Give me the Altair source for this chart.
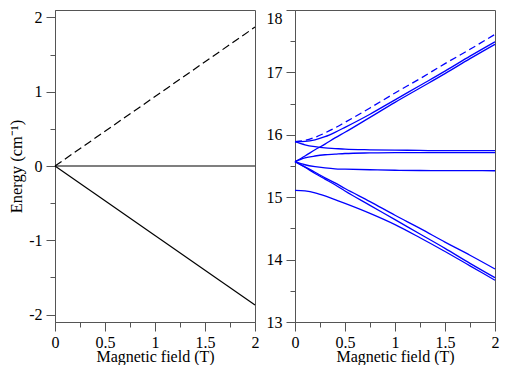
import altair as alt
import pandas as pd

# ---------------- data ----------------
left_field = [0.0, 2.0]
left_up = [0.0, 1.87]        # dashed
left_zero = [0.0, 0.0]
left_down = [0.0, -1.87]

field = [0.0, 0.1, 0.2, 0.3, 0.4, 0.5, 0.75, 1.0, 1.25, 1.5, 1.75, 2.0]
r_dashed = [15.89, 15.91, 15.96, 16.03, 16.11, 16.20, 16.43, 16.67, 16.90, 17.14, 17.37, 17.61]
r_up1 = [15.89, 15.895, 15.92, 15.97, 16.04, 16.12, 16.33, 16.56, 16.79, 17.02, 17.26, 17.49]
r_up2 = [15.57, 15.66, 15.76, 15.85, 15.95, 16.04, 16.28, 16.52, 16.75, 16.98, 17.22, 17.45]
r_mid1 = [15.89, 15.84, 15.81, 15.79, 15.78, 15.77, 15.76, 15.755, 15.75, 15.745, 15.745, 15.745]
r_mid2 = [15.57, 15.63, 15.66, 15.68, 15.69, 15.70, 15.71, 15.715, 15.715, 15.715, 15.715, 15.715]
r_mid3 = [15.57, 15.52, 15.49, 15.47, 15.455, 15.45, 15.44, 15.432, 15.428, 15.426, 15.425, 15.424]
r_down1 = [15.57, 15.485, 15.40, 15.31, 15.23, 15.14, 14.93, 14.71, 14.50, 14.28, 14.07, 13.85]
r_down2 = [15.57, 15.48, 15.38, 15.29, 15.20, 15.10, 14.87, 14.64, 14.41, 14.18, 13.94, 13.71]
r_down3 = [15.11, 15.10, 15.07, 15.02, 14.96, 14.90, 14.74, 14.56, 14.35, 14.13, 13.90, 13.67]

x_major = [0, 0.5, 1, 1.5, 2]
x_minor = [0.25, 0.75, 1.25, 1.75]
yl_major = [-2, -1, 0, 1, 2]
yl_minor = [-1.5, -0.5, 0.5, 1.5]
yr_major = [13, 14, 15, 16, 17, 18]
yr_minor = [13.5, 14.5, 15.5, 16.5, 17.5]

left_solid = pd.DataFrame({
    "field": left_field * 2,
    "energy": left_zero + left_down,
    "line": ["zero"] * 2 + ["down"] * 2,
})
left_dash = pd.DataFrame({"field": left_field, "energy": left_up})

solid_series = {"up1": r_up1, "up2": r_up2, "mid1": r_mid1, "mid2": r_mid2,
                "mid3": r_mid3, "down1": r_down1, "down2": r_down2, "down3": r_down3}
rows = []
for name, vals in solid_series.items():
    for f, e in zip(field, vals):
        rows.append({"field": f, "energy": e, "line": name})
right_solid = pd.DataFrame(rows)
right_dash = pd.DataFrame({"field": field, "energy": r_dashed})

FONT = "Liberation Serif"
AX = "#555555"
W, H = 200, 312
LFS = 16
TFS = 16

xscale = alt.Scale(domain=[0, 2], nice=False, zero=False)
ylscale = alt.Scale(domain=[-2.1, 2.1], nice=False, zero=False)
yrscale = alt.Scale(domain=[13, 18], nice=False, zero=False)

def major_x():
    return alt.Axis(values=x_major, labelExpr="toString(datum.value)", title="Magnetic field (T)",
                    orient="bottom", labelFont=FONT, labelFontSize=LFS, titleFont=FONT,
                    titleFontSize=TFS, tickSize=9, labelPadding=3, titlePadding=-2,
                    labelFlush=False, grid=False)

def minor_x():
    return alt.Axis(values=x_minor, labels=False, title=None, tickSize=5, domain=False,
                    grid=False, orient="bottom")

left_major_y = alt.Axis(values=yl_major, labelExpr="toString(datum.value)", title="Energy (cm⁻¹)",
                        orient="left", labelFont=FONT, labelFontSize=LFS, titleFont=FONT,
                        titleFontSize=TFS + 0.5, tickSize=9, labelPadding=4, titlePadding=4,
                        labelFlush=False, grid=False)
left_minor_y = alt.Axis(values=yl_minor, labels=False, title=None, tickSize=5, domain=False,
                        grid=False, orient="left")

right_major_y = alt.Axis(values=yr_major, labelExpr="toString(datum.value)", title=None,
                         orient="left", labelFont=FONT, labelFontSize=LFS,
                         tickSize=9, labelPadding=4, labelFlush=False, grid=False,
                         labelBaseline={"condition": {"test": "datum.value == 18", "value": "top"},
                                        "value": "middle"})
right_minor_y = alt.Axis(values=yr_minor, labels=False, title=None, tickSize=5, domain=False,
                         grid=False, orient="left")

l1 = alt.Chart(left_solid).mark_line(color="black", strokeWidth=1.2).encode(
    x=alt.X("field:Q", scale=xscale, axis=major_x()),
    y=alt.Y("energy:Q", scale=ylscale, axis=left_major_y),
    detail="line:N",
)
l2 = alt.Chart(left_dash).mark_line(color="black", strokeWidth=1.2, strokeDash=[8, 4]).encode(
    x=alt.X("field:Q", scale=xscale, axis=minor_x()),
    y=alt.Y("energy:Q", scale=ylscale, axis=left_minor_y),
)
left = alt.layer(l1, l2).resolve_axis(x="independent", y="independent").properties(width=W, height=H)

r1 = alt.Chart(right_solid).mark_line(color="#0000ff", strokeWidth=1.3, interpolate="monotone").encode(
    x=alt.X("field:Q", scale=xscale, axis=major_x()),
    y=alt.Y("energy:Q", scale=yrscale, axis=right_major_y),
    detail="line:N",
)
r2 = alt.Chart(right_dash).mark_line(color="#0000ff", strokeWidth=1.3, strokeDash=[7, 4],
                                     interpolate="monotone").encode(
    x=alt.X("field:Q", scale=xscale, axis=minor_x()),
    y=alt.Y("energy:Q", scale=yrscale, axis=right_minor_y),
)
right = alt.layer(r1, r2).resolve_axis(x="independent", y="independent").properties(width=W, height=H)

chart = alt.hconcat(left, right, spacing=40, bounds="flush", padding=0,
                    background="white").configure_view(
    stroke=AX, strokeWidth=1
).configure_axis(
    labelFont=FONT, titleFont=FONT, labelFontSize=LFS, titleFontSize=TFS,
    labelColor="black", titleColor="black", titleFontWeight="normal",
    domainColor=AX, tickColor=AX, domainWidth=1, tickWidth=1,
)

chart.save("out.html", embed_options={"renderer": "svg", "actions": False})
